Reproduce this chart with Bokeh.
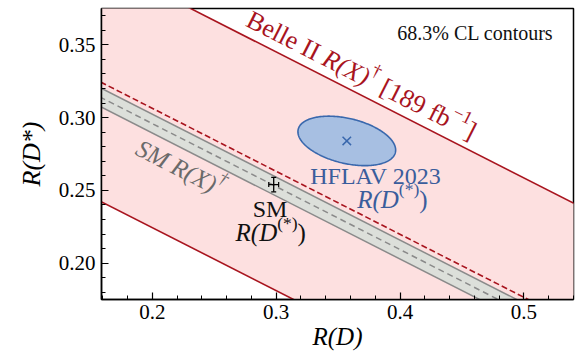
import math
import numpy as np
from bokeh.plotting import figure
from bokeh.models import FixedTicker, PrintfTickFormatter, Range1d
from bokeh.embed import file_html
from bokeh.resources import INLINE
from bokeh.core.properties import value

# ---------------- data ----------------
x_ticks = [0.2, 0.3, 0.4, 0.5]
x_minor = [0.16, 0.18, 0.22, 0.24, 0.26, 0.28, 0.32, 0.34, 0.36, 0.38,
           0.42, 0.44, 0.46, 0.48, 0.52, 0.54]
y_ticks = [0.20, 0.25, 0.30, 0.35]
y_minor = [0.18, 0.19, 0.21, 0.22, 0.23, 0.24, 0.26, 0.27, 0.28, 0.29,
           0.31, 0.32, 0.33, 0.34, 0.36, 0.37]

# constant-R(X) lines: R(D*) = intercept + slope * R(D)
rx_slope = -0.433
belle_intercepts = [0.311, 0.393, 0.475]      # lower, central, upper (Belle II R(X))
sm_intercepts = [0.376, 0.3825, 0.389]        # lower, central, upper (SM R(X))
line_rd = [0.10, 0.60]                        # R(D) span of the bands

hflav_center = [0.357, 0.284]                 # R(D), R(D*)
hflav_sigma = [0.029, 0.0125]
hflav_rho = -0.37
contour_radius = 1.36

sm_point = [0.298, 0.254]
sm_err = [0.004, 0.005]

x_range = (0.159, 0.540)
y_range = (0.175, 0.375)

# ---------------- figure ----------------
W, H = 577, 354
BL, BR, BT, BB = 101, 4, 8, 55
FW, FH = W - BL - BR, H - BT - BB
PX_X = FW / (x_range[1] - x_range[0])
PX_Y = FH / (y_range[1] - y_range[0])

FONT = "Liberation Serif"
RED = "#a8141e"
PINK = "#fde0e0"
GREYFILL = "#dcdfda"
GREYLINE = "#8a8a8a"
BLUE = "#3a68ad"
BLUEFILL = "#a7bfe2"
BLUETEXT = "#3a5d9c"

p = figure(width=W, height=H, x_range=Range1d(*x_range), y_range=Range1d(*y_range),
           output_backend="svg", toolbar_location=None,
           min_border_left=BL, min_border_right=BR, min_border_top=BT, min_border_bottom=BB)
p.background_fill_color = "white"
p.border_fill_color = "white"
p.outline_line_color = "black"
p.outline_line_width = 1.5
p.xgrid.visible = False
p.ygrid.visible = False

for ax in (p.xaxis[0], p.yaxis[0]):
    ax.axis_line_color = "black"
    ax.axis_line_width = 1.5
    ax.major_tick_in = 7
    ax.major_tick_out = 0
    ax.minor_tick_in = 4
    ax.minor_tick_out = 0
    ax.major_tick_line_width = 1.2
    ax.minor_tick_line_width = 1.0
    ax.major_label_text_font = FONT
    ax.major_label_text_font_size = "21px"
    ax.major_label_text_color = "black"
    ax.axis_label_text_font = FONT
    ax.axis_label_text_font_style = "italic"
    ax.axis_label_text_color = "black"

p.xaxis.axis_label_text_font_size = "25px"
p.yaxis.axis_label_text_font_size = "26px"
p.xaxis.ticker = FixedTicker(ticks=x_ticks, minor_ticks=x_minor)
p.yaxis.ticker = FixedTicker(ticks=y_ticks, minor_ticks=y_minor)
p.xaxis.formatter = PrintfTickFormatter(format="%.1f")
p.yaxis.formatter = PrintfTickFormatter(format="%.2f")
p.xaxis.major_label_standoff = 5
p.yaxis.major_label_standoff = 6
p.xaxis.axis_label = "R(D)"
p.yaxis.axis_label = "R(D*)"
p.xaxis.axis_label_standoff = 1
p.yaxis.axis_label_standoff = 10

rd = np.array(line_rd)
def rx_line(c):
    return c + rx_slope * rd

# Belle II band
p.varea(x=rd, y1=rx_line(belle_intercepts[0]), y2=rx_line(belle_intercepts[2]),
        fill_color=PINK, fill_alpha=1.0)
p.line(rd, rx_line(belle_intercepts[0]), line_color=RED, line_width=1.6)
p.line(rd, rx_line(belle_intercepts[2]), line_color=RED, line_width=1.6)

# SM band
p.varea(x=rd, y1=rx_line(sm_intercepts[0]), y2=rx_line(sm_intercepts[2]),
        fill_color=GREYFILL, fill_alpha=1.0)
p.line(rd, rx_line(sm_intercepts[0]), line_color=GREYLINE, line_width=1.5)
p.line(rd, rx_line(sm_intercepts[2]), line_color=GREYLINE, line_width=1.5)
p.line(rd, rx_line(sm_intercepts[1]), line_color=GREYLINE, line_width=1.5, line_dash="6 4")

# Belle II central
p.line(rd, rx_line(belle_intercepts[1]), line_color=RED, line_width=1.6, line_dash="6 3")

# HFLAV ellipse
t = np.linspace(0, 2 * np.pi, 241)
ex = hflav_center[0] + contour_radius * hflav_sigma[0] * np.cos(t)
ey = hflav_center[1] + contour_radius * hflav_sigma[1] * (
    hflav_rho * np.cos(t) + np.sqrt(1 - hflav_rho ** 2) * np.sin(t))
p.patch(ex, ey, fill_color=BLUEFILL, line_color=BLUE, line_width=1.6)
p.scatter([hflav_center[0]], [hflav_center[1]], marker="x", size=12,
          line_color=BLUE, line_width=1.5)

# SM point with error bars and caps
sx, sy = sm_point
ex_, ey_ = sm_err
p.segment(x0=[sx - ex_, sx], y0=[sy, sy - ey_], x1=[sx + ex_, sx], y1=[sy, sy + ey_],
          line_color="black", line_width=1.3)
p.scatter([sx, sx], [sy - ey_, sy + ey_], marker="dash", size=5, angle=0.0,
          line_color="black", line_width=1.2)
p.scatter([sx - ex_, sx + ex_], [sy, sy], marker="dash", size=5, angle=math.pi / 2,
          line_color="black", line_width=1.2)

# ---------------- text helpers ----------------
REG = {" ": 250, "B": 667, "e": 444, "l": 278, "I": 333, "[": 333, "]": 333, "1": 500,
       "8": 500, "9": 500, "f": 333, "b": 500, "(": 333, ")": 333, "*": 500, "\u2020": 500,
       "\u2212": 564, "S": 556, "M": 889, "H": 722, "F": 556, "L": 611, "A": 722,
       "V": 722, "2": 500, "0": 500, "3": 500}
ITA = {" ": 250, "R": 611, "(": 333, ")": 333, "X": 611, "D": 722, "S": 500, "M": 833,
       "\u2020": 500}
BASE_SHIFT = 0.42   # em: correction of the drawn baseline

def adv(s, italic):
    tbl = ITA if italic else REG
    return sum(tbl.get(ch, 500) for ch in s) / 1000.0

def rich(x0, y0, runs, size, color, angle=0.0, align="left"):
    widths = [adv(tx, it) * size * sc for (tx, it, sc, rise) in runs]
    total = sum(widths)
    a = 0.0 if align == "left" else (-total / 2 if align == "center" else -total)
    c, s = math.cos(angle), math.sin(angle)
    for (tx, it, sc, rise), w in zip(runs, widths):
        lead = len(tx) - len(tx.lstrip(" "))
        body = tx.strip(" ")
        a_run = a + lead * 0.25 * size * sc
        r = (rise + BASE_SHIFT) * size
        ox = a_run * c - r * s
        oy = a_run * s + r * c
        p.text(x=[x0 + ox / PX_X], y=[y0 + oy / PX_Y], text=[body], angle=angle,
               text_font=value(FONT), text_font_size=f"{size * sc:.1f}px",
               text_font_style="italic" if it else "normal",
               text_color=color, text_align="left", text_baseline="alphabetic")
        a += w

band_angle = math.atan(rx_slope * PX_Y / PX_X)

rich(0.5287, 0.3523, [("68.3% CL contours", False, 1.0, 0.0)], 20, "#111111", align="right")

rich(0.2736, 0.3619,
     [("Belle II ", False, 1.0, 0.0), ("R(X)", True, 1.0, 0.0), ("\u2020", False, 0.7, 0.42),
      (" [189 fb", False, 1.0, 0.0), ("\u22121", False, 0.7, 0.42), ("]", False, 1.0, 0.0)],
     26, RED, angle=band_angle)

rich(0.1845, 0.2738,
     [("SM R(X)", True, 1.0, 0.0), ("\u2020", True, 0.7, 0.42)],
     25, "#6a6a6a", angle=band_angle)

rich(0.2950, 0.2305, [("SM", False, 1.0, 0.0)], 24, "#111111", align="center")
rich(0.2672, 0.2135, [("R(D", True, 1.0, 0.0), ("(*)", False, 0.7, 0.40), (")", False, 1.0, 0.0)],
     25, "#111111")

rich(0.3816, 0.2528, [("HFLAV 2023", False, 1.0, 0.0)], 24, BLUETEXT, align="center")
rich(0.3654, 0.2368, [("R(D", True, 1.0, 0.0), ("(*)", False, 0.7, 0.40), (")", False, 1.0, 0.0)],
     25, BLUETEXT)

open("out.html", "w").write(file_html(p, INLINE))
